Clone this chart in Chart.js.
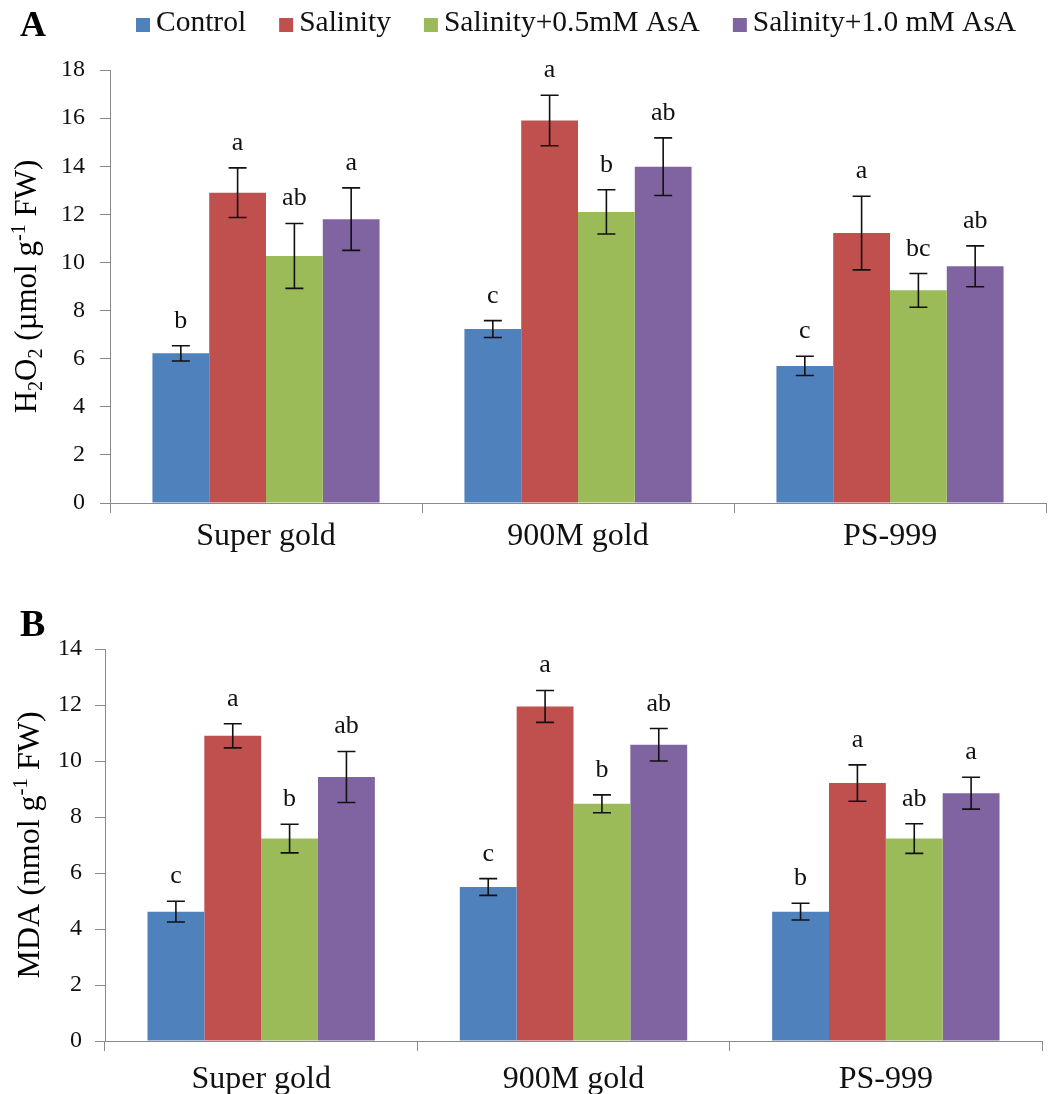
<!DOCTYPE html>
<html>
<head>
<meta charset="utf-8">
<script src="https://cdn.jsdelivr.net/npm/chart.js@4.4.1/dist/chart.umd.min.js"></script>
<style>
  html, body { margin: 0; padding: 0; background: #fff; }
  #wrap { position: relative; width: 1052px; height: 1094px; }
  canvas { position: absolute; left: 0; }
  #chartA { top: 0; }
  #chartB { top: 565px; }
</style>
</head>
<body>
<div id="wrap">
  <canvas id="chartA" width="1052" height="565"></canvas>
  <canvas id="chartB" width="1052" height="529"></canvas>
</div>
<script>
// ---- categories and series ----
const cultivars = ['Super gold', '900M gold', 'PS-999'];
const treatments = ['Control', 'Salinity', 'Salinity+0.5mM AsA', 'Salinity+1.0 mM AsA'];
const seriesColors = ['#4F81BD', '#C0504D', '#9BBB59', '#8064A2'];

// Panel A: H2O2 (µmol g-1 FW)
const h2o2Control = [6.22, 7.23, 5.70];
const h2o2Salinity = [12.90, 15.90, 11.22];
const h2o2Asa05 = [10.27, 12.10, 8.84];
const h2o2Asa10 = [11.80, 13.98, 9.84];
const h2o2ControlErr = [0.32, 0.35, 0.40];
const h2o2SalinityErr = [1.03, 1.05, 1.53];
const h2o2Asa05Err = [1.35, 0.92, 0.70];
const h2o2Asa10Err = [1.30, 1.20, 0.85];
const h2o2ControlSig = ['b', 'c', 'c'];
const h2o2SalinitySig = ['a', 'a', 'a'];
const h2o2Asa05Sig = ['ab', 'b', 'bc'];
const h2o2Asa10Sig = ['a', 'ab', 'ab'];
const h2o2Ticks = [0, 2, 4, 6, 8, 10, 12, 14, 16, 18];

// Panel B: MDA (nmol g-1 FW)
const mdaControl = [4.62, 5.50, 4.62];
const mdaSalinity = [10.90, 11.95, 9.21];
const mdaAsa05 = [7.23, 8.47, 7.23];
const mdaAsa10 = [9.43, 10.58, 8.85];
const mdaControlErr = [0.37, 0.30, 0.30];
const mdaSalinityErr = [0.43, 0.57, 0.65];
const mdaAsa05Err = [0.51, 0.32, 0.53];
const mdaAsa10Err = [0.91, 0.58, 0.57];
const mdaControlSig = ['c', 'c', 'b'];
const mdaSalinitySig = ['a', 'a', 'a'];
const mdaAsa05Sig = ['b', 'b', 'ab'];
const mdaAsa10Sig = ['ab', 'ab', 'a'];
const mdaTicks = [0, 2, 4, 6, 8, 10, 12, 14];

const SERIF = "'Liberation Serif', 'Times New Roman', serif";
const AXIS_GREY = '#8a8a8a';
const INK = '#111111';

Chart.defaults.font.family = SERIF;
Chart.defaults.color = INK;

// Error bars with significance letters above each bar
const errorBarPlugin = {
  id: 'errorBars',
  afterDatasetsDraw(chart) {
    const { ctx } = chart;
    const y = chart.scales.y;
    chart.data.datasets.forEach((ds, di) => {
      const meta = chart.getDatasetMeta(di);
      meta.data.forEach((bar, i) => {
        const v = ds.data[i];
        const e = ds.errors[i];
        const yTop = y.getPixelForValue(v + e);
        const yBot = y.getPixelForValue(v - e);
        const x = bar.x;
        ctx.save();
        ctx.strokeStyle = INK;
        ctx.lineWidth = 1.6;
        ctx.beginPath();
        ctx.moveTo(x, yTop); ctx.lineTo(x, yBot);
        ctx.moveTo(x - 9, yTop); ctx.lineTo(x + 9, yTop);
        ctx.moveTo(x - 9, yBot); ctx.lineTo(x + 9, yBot);
        ctx.stroke();
        ctx.font = '26px ' + SERIF;
        ctx.fillStyle = INK;
        ctx.textAlign = 'center';
        ctx.textBaseline = 'alphabetic';
        ctx.fillText(ds.letters[i], x, yTop - 18);
        ctx.restore();
      });
    });
  }
};

// Panel letter, axis title with sub/superscripts, and the series key
const panelDecorPlugin = {
  id: 'panelDecor',
  afterDraw(chart, args, opts) {
    const { ctx, chartArea } = chart;
    ctx.save();
    // panel letter
    ctx.font = 'bold ' + opts.letterSize + 'px ' + SERIF;
    ctx.fillStyle = '#000';
    ctx.textAlign = 'left';
    ctx.textBaseline = 'alphabetic';
    ctx.fillText(opts.letter, opts.letterX, opts.letterY);

    // rotated y-axis title
    const size = opts.titleSize;
    const small = size * 0.65;
    const parts = opts.title;
    ctx.textAlign = 'left';
    let total = 0;
    parts.forEach(p => {
      ctx.font = (p.sub || p.sup ? small : size) + 'px ' + SERIF;
      p.w = ctx.measureText(p.t).width;
      total += p.w;
    });
    const cy = (chartArea.top + chartArea.bottom) / 2;
    ctx.translate(opts.titleX, cy);
    ctx.rotate(-Math.PI / 2);
    let cx = -total / 2;
    const base = size * 0.33;
    parts.forEach(p => {
      ctx.font = (p.sub || p.sup ? small : size) + 'px ' + SERIF;
      let dy = base;
      if (p.sub) dy += size * 0.2;
      if (p.sup) dy -= size * 0.36;
      ctx.fillText(p.t, cx, dy);
      cx += p.w;
    });
    ctx.setTransform(1, 0, 0, 1, 0, 0);

    // series key
    if (opts.legend) {
      const lg = opts.legend;
      ctx.font = lg.fontSize + 'px ' + SERIF;
      ctx.textBaseline = 'alphabetic';
      let x = lg.x;
      chart.data.datasets.forEach(ds => {
        ctx.fillStyle = ds.backgroundColor;
        ctx.fillRect(x, lg.y - lg.box / 2, lg.box, lg.box);
        x += lg.box + lg.textGap;
        ctx.fillStyle = INK;
        ctx.fillText(ds.label, x, lg.baseline);
        x += ctx.measureText(ds.label).width + lg.itemGap;
      });
    }
    ctx.restore();
  }
};

function makeDatasets(values, errors, letters) {
  return treatments.map((name, k) => ({
    label: name,
    data: values[k],
    errors: errors[k],
    letters: letters[k],
    backgroundColor: seriesColors[k],
    borderWidth: 0,
    categoryPercentage: 0.728,
    barPercentage: 1.0
  }));
}

function makeChart(canvasId, datasets, tickValues, cfg) {
  return new Chart(document.getElementById(canvasId), {
    type: 'bar',
    data: { labels: cultivars, datasets },
    plugins: [errorBarPlugin, panelDecorPlugin],
    options: {
      responsive: false,
      animation: false,
      devicePixelRatio: 1,
      layout: { padding: { top: cfg.top, right: cfg.right, left: 0, bottom: 0 } },
      plugins: {
        legend: { display: false },
        tooltip: { enabled: false },
        panelDecor: cfg.decor
      },
      scales: {
        x: {
          offset: true,
          grid: { offset: true, drawOnChartArea: false, drawTicks: true, tickLength: 10, color: AXIS_GREY, lineWidth: 1 },
          border: { display: true, color: AXIS_GREY, width: 1 },
          ticks: { font: { size: 32, family: SERIF }, color: INK, padding: cfg.xPad, maxRotation: 0 },
          afterFit(scale) { scale.height = cfg.xHeight; }
        },
        y: {
          min: tickValues[0],
          max: tickValues[tickValues.length - 1],
          afterBuildTicks(scale) { scale.ticks = tickValues.map(v => ({ value: v })); },
          grid: { drawOnChartArea: false, drawTicks: true, tickLength: 10, color: AXIS_GREY, lineWidth: 1 },
          border: { display: true, color: AXIS_GREY, width: 1 },
          ticks: { font: { size: 24, family: SERIF }, color: INK, padding: cfg.yPad },
          afterFit(scale) { scale.width = cfg.yWidth; }
        }
      }
    }
  });
}

makeChart('chartA',
  makeDatasets(
    [h2o2Control, h2o2Salinity, h2o2Asa05, h2o2Asa10],
    [h2o2ControlErr, h2o2SalinityErr, h2o2Asa05Err, h2o2Asa10Err],
    [h2o2ControlSig, h2o2SalinitySig, h2o2Asa05Sig, h2o2Asa10Sig]),
  h2o2Ticks,
  {
    top: 70, right: 6, xHeight: 62, yWidth: 110, xPad: 4, yPad: 15,
    decor: {
      letter: 'A', letterX: 20, letterY: 36, letterSize: 36,
      titleX: 26, titleSize: 31,
      title: [{ t: 'H' }, { t: '2', sub: true }, { t: 'O' }, { t: '2', sub: true },
              { t: ' (µmol g' }, { t: '-1', sup: true }, { t: ' FW)' }],
      legend: { x: 136, y: 25, box: 14, textGap: 6, itemGap: 33, fontSize: 29.5, baseline: 31 }
    }
  });

makeChart('chartB',
  makeDatasets(
    [mdaControl, mdaSalinity, mdaAsa05, mdaAsa10],
    [mdaControlErr, mdaSalinityErr, mdaAsa05Err, mdaAsa10Err],
    [mdaControlSig, mdaSalinitySig, mdaAsa05Sig, mdaAsa10Sig]),
  mdaTicks,
  {
    top: 84, right: 10, xHeight: 53, yWidth: 105, xPad: 9, yPad: 13,
    decor: {
      letter: 'B', letterX: 20, letterY: 71, letterSize: 38,
      titleX: 28, titleSize: 32,
      title: [{ t: 'MDA (nmol g' }, { t: '-1', sup: true }, { t: ' FW)' }]
    }
  });
</script>
</body>
</html>
